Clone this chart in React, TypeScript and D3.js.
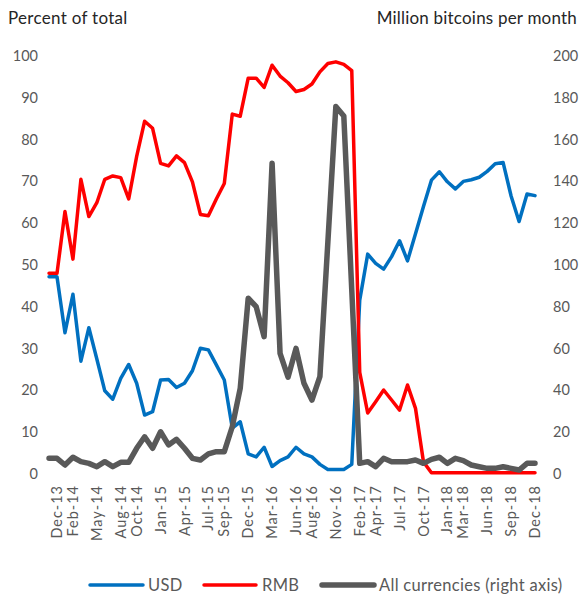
import React from "react";
import * as d3 from "d3";

// Monthly observations, Nov-13 .. Dec-18
const months: Date[] = d3.timeMonth.range(new Date(2013, 10, 1), new Date(2019, 0, 1));

const usd: number[] = [
  47.2, 47.2,
  33.8, 43.0, 27.0, 35.0, 27.5, 19.9, 17.9, 22.9, 26.2, 21.7, 14.1, 14.9,
  22.5, 22.6, 20.7, 21.7, 24.7, 30.1, 29.7, 26.1, 22.5, 11.0, 12.5, 4.8,
  4.1, 6.4, 1.8, 3.2, 4.1, 6.4, 4.8, 4.1, 2.3, 1.1, 1.1, 1.1,
  2.3, 41.6, 52.6, 50.4, 49.0, 52.0, 55.8, 51.0, 57.5, 64.0, 70.3, 72.3,
  69.9, 68.2, 70.0, 70.4, 71.0, 72.4, 74.2, 74.5, 66.5, 60.4, 67.0, 66.6,
];

const rmb: number[] = [
  48.0, 48.0,
  62.8, 51.4, 70.5, 61.6, 64.9, 70.5, 71.3, 70.9, 65.8, 76.0, 84.4, 82.7,
  74.3, 73.7, 76.1, 74.5, 69.9, 62.1, 61.8, 65.8, 69.5, 86.1, 85.6, 94.7,
  94.7, 92.5, 97.8, 95.2, 93.6, 91.5, 92.0, 93.3, 96.2, 98.2, 98.6, 98.0,
  96.5, 24.3, 14.6, 17.3, 20.1, 17.7, 15.3, 21.3, 15.7, 2.9, 0.3, 0.3,
  0.3, 0.3, 0.3, 0.3, 0.3, 0.3, 0.3, 0.3, 0.3, 0.3, 0.3, 0.3,
];

const allCurrencies: number[] = [
  7.5, 7.5,
  4.3, 8.0, 5.9, 5.1, 3.5, 5.9, 3.5, 5.6, 5.6, 12.3, 17.8, 12.3,
  20.2, 13.9, 16.6, 12.3, 7.5, 6.7, 9.6, 10.7, 10.7, 22.6, 41.0, 84.1,
  80.1, 65.7, 148.7, 57.7, 46.3, 60.1, 43.4, 35.4, 46.6, 111.0, 175.8, 171.3,
  88.0, 5.1, 5.9, 3.5, 7.5, 5.9, 5.9, 5.9, 6.7, 5.1, 7.0, 8.0,
  5.1, 7.5, 6.4, 4.3, 3.5, 2.7, 2.7, 3.5, 2.7, 1.9, 5.1, 5.1,
];

const xTickLabels: string[] = [
  "Dec-13", "Feb-14", "May-14", "Aug-14", "Oct-14", "Jan-15", "Apr-15", "Jul-15",
  "Sep-15", "Dec-15", "Mar-16", "Jun-16", "Aug-16", "Nov-16", "Feb-17", "Apr-17",
  "Jul-17", "Oct-17", "Jan-18", "Mar-18", "Jun-18", "Sep-18", "Dec-18",
];
const leftTicks: number[] = [0, 10, 20, 30, 40, 50, 60, 70, 80, 90, 100];
const rightTicks: number[] = [0, 20, 40, 60, 80, 100, 120, 140, 160, 180, 200];

const seriesNames = ["USD", "RMB", "All currencies (right axis)"];
const leftTitle = "Percent of total";
const rightTitle = "Million bitcoins per month";

const FONT = "Lato, 'Noto Sans', sans-serif";
const BLUE = "#0070C0";
const RED = "#FF0000";
const GREY = "#595959";
const TEXT = "#595959";

export default function App() {
  const W = 582;
  const H = 598;
  const fmt = d3.timeFormat("%b-%y");
  const monthLabels = months.map((m) => fmt(m));

  // index 1 (Dec-13) -> 57, index 61 (Dec-18) -> 535
  const x = d3.scaleLinear().domain([1, 61]).range([57, 535]);
  const yL = d3.scaleLinear().domain([0, 100]).range([474, 56]);
  const yR = d3.scaleLinear().domain([0, 200]).range([474, 56]);

  const lineL = d3
    .line<number>()
    .x((_, i) => x(i))
    .y((d) => yL(d));
  const lineR = d3
    .line<number>()
    .x((_, i) => x(i))
    .y((d) => yR(d));

  const legendY = 585;
  const legend = [
    { name: seriesNames[0], color: BLUE, w: 3.5, x0: 90, x1: 143, tx: 148 },
    { name: seriesNames[1], color: RED, w: 3.5, x0: 204, x1: 256, tx: 262 },
    { name: seriesNames[2], color: GREY, w: 5.5, x0: 322, x1: 374, tx: 379 },
  ];

  return (
    <svg width={W} height={H} style={{ position: "absolute", left: 0, top: 0, background: "#fff" }}>
      <text x={8} y={24} fontFamily={FONT} fontSize={17} letterSpacing={0.3} fill="#262626">
        {leftTitle}
      </text>
      <text x={577} y={24} fontFamily={FONT} fontSize={17} letterSpacing={0.2} fill="#262626" textAnchor="end">
        {rightTitle}
      </text>

      {leftTicks.map((t) => (
        <text
          key={"l" + t}
          x={38}
          y={yL(t)}
          dy="0.35em"
          textAnchor="end"
          fontFamily={FONT}
          fontSize={14.5}
          fill={TEXT}
        >
          {t}
        </text>
      ))}
      {rightTicks.map((t) => (
        <text
          key={"r" + t}
          x={553}
          y={yR(t)}
          dy="0.35em"
          textAnchor="start"
          fontFamily={FONT}
          fontSize={14.5}
          fill={TEXT}
        >
          {t}
        </text>
      ))}

      {xTickLabels.map((lab) => {
        const i = monthLabels.indexOf(lab);
        return (
          <text
            key={lab}
            transform={`translate(${x(i)},485) rotate(-90)`}
            textAnchor="end"
            dy="0.35em"
            fontFamily={FONT}
            fontSize={14.5}
            letterSpacing={1}
            fill={TEXT}
          >
            {lab}
          </text>
        );
      })}

      <path d={lineL(usd) || ""} fill="none" stroke={BLUE} strokeWidth={3.5} strokeLinejoin="round" strokeLinecap="round" />
      <path d={lineL(rmb) || ""} fill="none" stroke={RED} strokeWidth={3.5} strokeLinejoin="round" strokeLinecap="round" />
      <path d={lineR(allCurrencies) || ""} fill="none" stroke={GREY} strokeWidth={5.5} strokeLinejoin="round" strokeLinecap="round" />

      {legend.map((l) => (
        <g key={l.name}>
          <line x1={l.x0} x2={l.x1} y1={legendY} y2={legendY} stroke={l.color} strokeWidth={l.w} strokeLinecap="round" />
          <text x={l.tx} y={legendY} dy="0.35em" fontFamily={FONT} fontSize={16.5} letterSpacing={0.3} fill={TEXT}>
            {l.name}
          </text>
        </g>
      ))}
    </svg>
  );
}
